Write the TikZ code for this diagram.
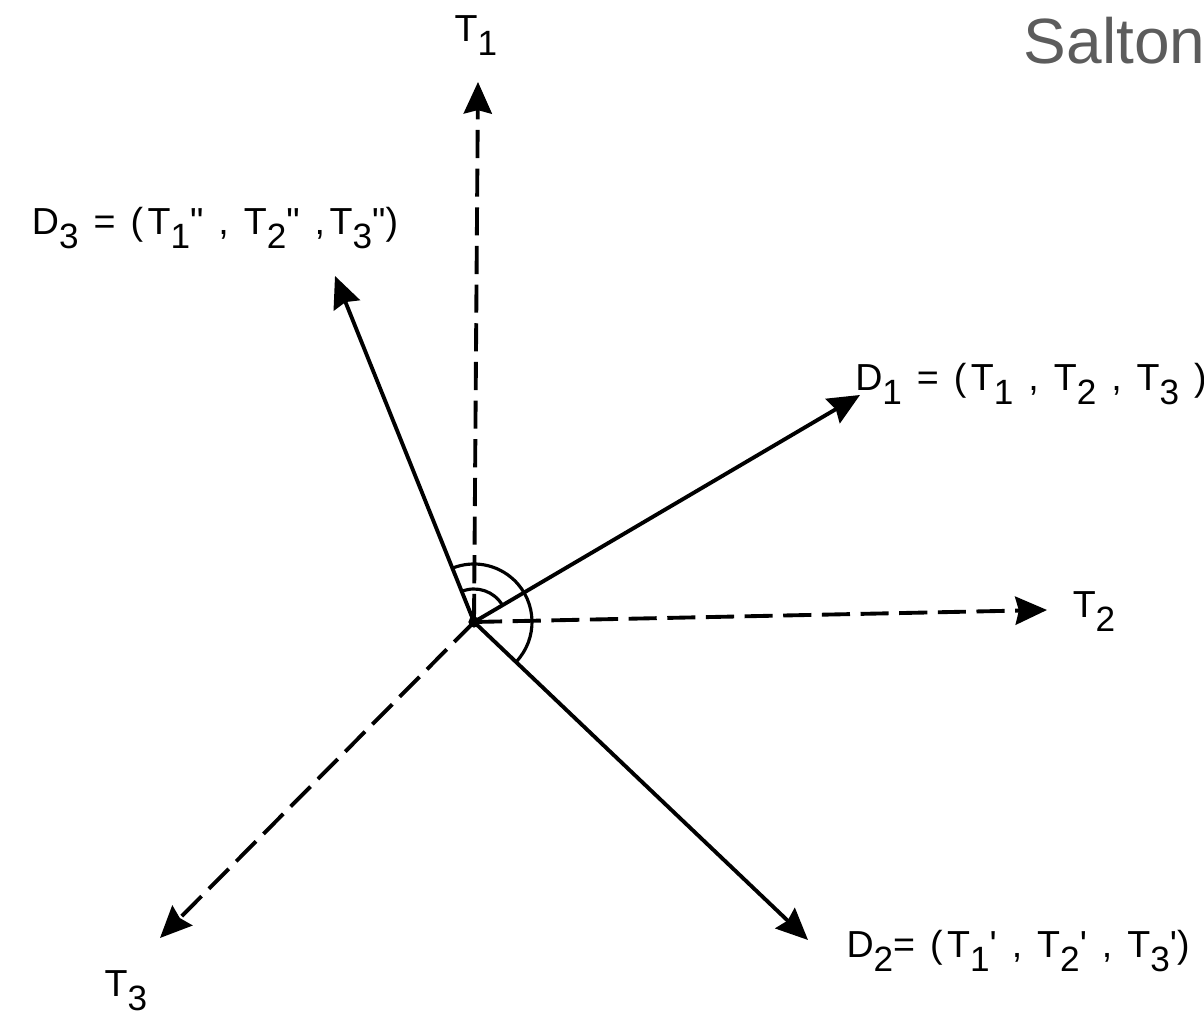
\documentclass[tikz,border=0pt]{standalone}
\usepackage{fontspec}
\setmainfont{Liberation Sans}
\usetikzlibrary{arrows.meta}

\newcommand{\lsub}[1]{\raisebox{-4pt}{\fontsize{10}{10}\selectfont #1}}
\tikzset{
  axisline/.style={->, dash pattern=on 8pt off 3pt},
  vecline/.style={->},
  lbl/.style={font=\fontsize{10.7}{12}\selectfont\addfontfeature{LetterSpace=12}, inner sep=0pt}
}

\begin{document}
\begin{tikzpicture}[>={Stealth[length=9pt,width=8pt,inset=1pt]}, line width=1.1pt]
    \useasboundingbox (0,0) rectangle (12.04,10.14);

    \coordinate (O) at (4.74,3.92);
    \coordinate (T1) at (4.78,9.32);
    \coordinate (T2) at (10.47,4.04);
    \coordinate (T3) at (1.60,0.76);
    \coordinate (D1) at (8.60,6.19);
    \coordinate (D2) at (8.08,0.74);
    \coordinate (D3) at (3.35,7.38);

    % term axes
    \draw[axisline] (O) -- (T1);
    \draw[axisline] (O) -- (T2);
    \draw[axisline] (O) -- (T3);

    % document vectors
    \draw[vecline] (O) -- (D1);
    \draw[vecline] (O) -- (D2);
    \draw[vecline] (O) -- (D3);

    % angles
    \draw[line width=0.9pt] ([shift={(30.5:0.33)}]O) arc[start angle=30.5, end angle=111.9, radius=0.33];
    \draw[line width=0.9pt] ([shift={(-43.6:0.58)}]O) arc[start angle=-43.6, end angle=111.9, radius=0.58];
    \fill (O) circle (1.6pt);

    \node[lbl] (lT1) at (4.76,9.78) {T\lsub{1}};
    \node[lbl] (lT2) at (10.94,4.02) {T\lsub{2}};
    \node[lbl] (lT3) at (1.26,0.23) {T\lsub{3}};
    \node[lbl] (lD1) at (10.31,6.30) {D\lsub{1} = (T\lsub{1} , T\lsub{2} , T\lsub{3} )};
    \node[lbl] (lD2) at (10.18,0.63) {D\lsub{2}= (T\lsub{1}\textquotesingle\ , T\lsub{2}\textquotesingle\ , T\lsub{3}\textquotesingle)};
    \node[lbl] (lD3) at (2.15,7.86) {D\lsub{3} = (T\lsub{1}\textquotedbl\ , T\lsub{2}\textquotedbl\ ,T\lsub{3}\textquotedbl)};

    \node[anchor=base west, inner sep=0pt, text=black!64, font=\fontsize{18.2}{20}\selectfont] (salton) at (10.22,9.50) {Salton};
\end{tikzpicture}
\end{document}
